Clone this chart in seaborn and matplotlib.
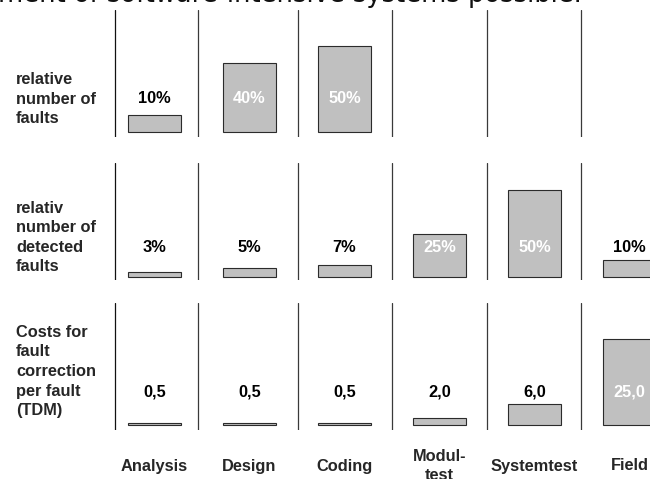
import matplotlib
matplotlib.use("Agg")
import matplotlib.pyplot as plt
import matplotlib.transforms as mtransforms
import numpy as np
import pandas as pd
import seaborn as sns

# Development phases and the three measured quantities per phase
stages = ["Analysis", "Design", "Coding", "Modultest", "Systemtest", "Field"]
stage_labels = ["Analysis", "Design", "Coding", "Modul-\ntest", "Systemtest", "Field"]
faults_introduced = [10, 40, 50, np.nan, np.nan, np.nan]      # % of faults made
faults_detected = [3, 5, 7, 25, 50, 10]                        # % of faults found
correction_cost = [0.5, 0.5, 0.5, 2.0, 6.0, 25.0]              # TDM per fault
row_titles = [
    "relative\nnumber of\nfaults",
    "relativ\nnumber of\ndetected\nfaults",
    "Costs for\nfault\ncorrection\nper fault\n(TDM)",
]
headline = "ment of software-intensive systems possible."

W, H = 650, 479
FS = 11.8
BAR_FILL = "#c0c0c0"
BAR_EDGE = "#2b2b2b"

sns.set_theme(style="white")
plt.rcParams["font.family"] = ["Liberation Sans", "DejaVu Sans"]

fig = plt.figure(figsize=(W / 100, H / 100), dpi=100)


def fmt_pct(v):
    return f"{v:.0f}%"


def fmt_cost(v):
    return f"{v:.1f}".replace(".", ",")


# pixel layout of each band (measured from the top edge of the figure)
rows = [
    dict(values=faults_introduced, top=10, bottom=137, base=132, scale=1.72,
         label_y=99, title_y=99, fmt=fmt_pct),
    dict(values=faults_detected, top=163, bottom=280, base=277, scale=1.74,
         label_y=248, title_y=237.5, fmt=fmt_pct),
    dict(values=correction_cost, top=303, bottom=430, base=425, scale=3.44,
         label_y=392, title_y=371.5, fmt=fmt_cost),
]

# category axis: first bar centred at x=154.5 px, 95 px between bars
x0_px, step_px = 154.5, 95.0
xlim = ((0 - x0_px) / step_px, (W - x0_px) / step_px)
separators = [-0.42, 0.46, 1.51, 2.5, 3.5, 4.49]

ax = None
for row, title in zip(rows, row_titles):
    top, bottom, base, scale = row["top"], row["bottom"], row["base"], row["scale"]
    ax = fig.add_axes([0, 1 - bottom / H, 1, (bottom - top) / H])
    df = pd.DataFrame({"stage": stages, "value": row["values"]})
    sns.barplot(data=df, x="stage", y="value", order=stages, color=BAR_FILL,
                saturation=1, edgecolor=BAR_EDGE, linewidth=0.8, width=0.56,
                errorbar=None, ax=ax)
    ax.set_xlim(*xlim)
    ax.set_ylim(-(bottom - base) / scale, (base - top) / scale)
    for k, sx in enumerate(separators):
        ax.axvline(sx, color="#111111" if k == 0 else "#3a3a3a", lw=0.9)
    ax.axis("off")

    # value labels sit on a common line; inside tall bars they turn white
    trans = mtransforms.blended_transform_factory(ax.transData, ax.transAxes)
    ly = (bottom - row["label_y"]) / (bottom - top)
    label_height = base - row["label_y"] + 8
    for i, v in enumerate(row["values"]):
        if np.isnan(v):
            continue
        color = "white" if v * scale > label_height else "black"
        ax.text(i, ly, row["fmt"](v), transform=trans, ha="center", va="center",
                color=color, fontsize=FS, fontweight="bold")

    fig.text(16 / W, 1 - row["title_y"] / H, title, ha="left", va="center",
             fontsize=FS, fontweight="bold", linespacing=1.38)

# phase names below the last band
trans = mtransforms.blended_transform_factory(ax.transData, fig.transFigure)
for i, name in enumerate(stage_labels):
    ax.text(i, 1 - 466 / H, name, transform=trans, ha="center", va="center",
            fontsize=FS, fontweight="bold", linespacing=1.38, clip_on=False)

fig.text(-2 / W, 1 - 2.0 / H, headline, ha="left", va="baseline",
         fontsize=18.5, family=["DejaVu Sans"], color="#111111")

fig.savefig("out.png", dpi=100)
